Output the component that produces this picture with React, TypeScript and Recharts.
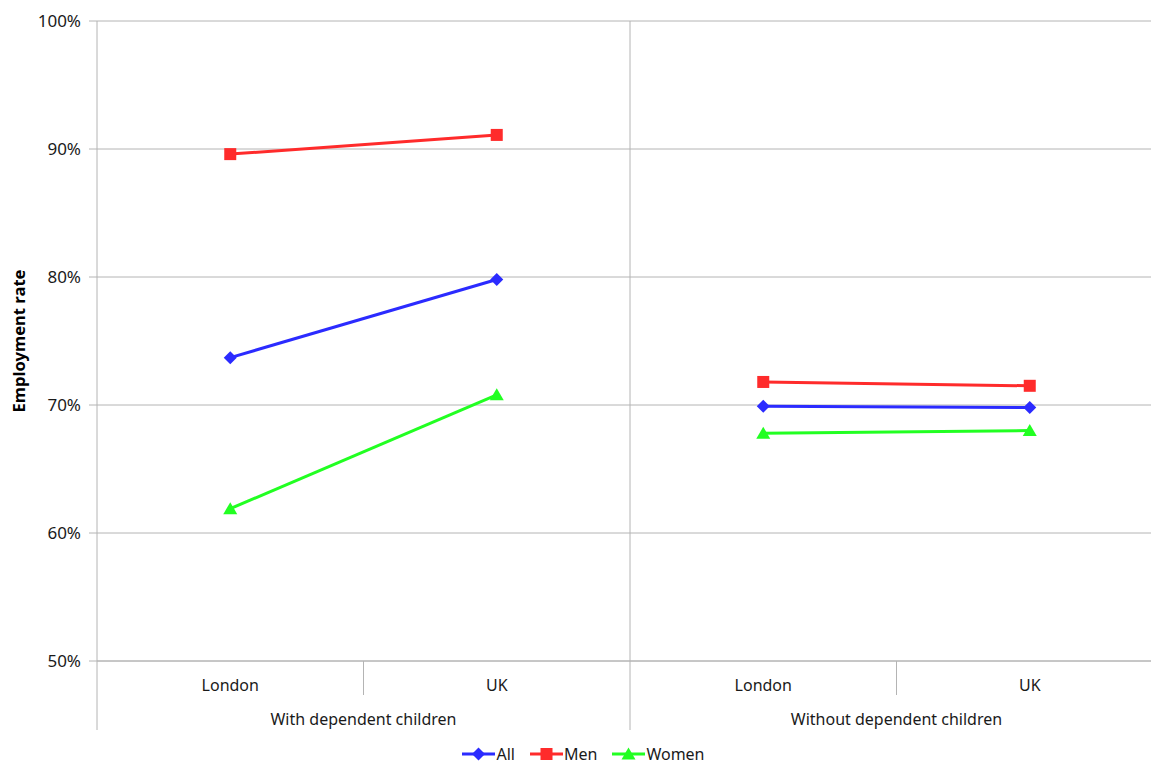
import {
  LineChart,
  Line,
  XAxis,
  YAxis,
  CartesianGrid,
  Legend,
  ReferenceLine,
} from "recharts";

// categories on the two-level x axis
const categoryKeys = ["with-london", "with-uk", "without-london", "without-uk"];
const categoryLabels = ["London", "UK", "London", "UK"];
const categoryGroup = [0, 0, 1, 1];
const groupLabels = ["With dependent children", "Without dependent children"];

// employment rate, %
const allValues = [73.7, 79.8, 69.9, 69.8];
const menValues = [89.6, 91.1, 71.8, 71.5];
const womenValues = [61.9, 70.8, 67.8, 68.0];

const yTicks = [50, 60, 70, 80, 90, 100];

const seriesInfo = [
  { name: "All", values: allValues, color: "#2b2bff", marker: "diamond" },
  { name: "Men", values: menValues, color: "#ff2b2b", marker: "square" },
  { name: "Women", values: womenValues, color: "#22ff22", marker: "triangle" },
];

// one line per series per group, so the lines break between groups
const data = categoryKeys.map((key, i) => {
  const row: Record<string, string | number | null> = { cat: key };
  seriesInfo.forEach((s) => {
    groupLabels.forEach((_, g) => {
      row[`${s.name}_${g}`] = categoryGroup[i] === g ? s.values[i] : null;
    });
  });
  return row;
});

const FONT = "'Noto Sans', 'Open Sans', sans-serif";
const TEXT = "#1a1a1a";
const GRID = "#b4b4b4";

function Marker({ cx, cy, type, color }: { cx: number; cy: number; type: string; color: string }) {
  if (cx == null || cy == null) return null;
  if (type === "diamond") {
    return <polygon points={`${cx},${cy - 6.5} ${cx + 6.5},${cy} ${cx},${cy + 6.5} ${cx - 6.5},${cy}`} fill={color} />;
  }
  if (type === "square") {
    return <rect x={cx - 6} y={cy - 6} width={12} height={12} fill={color} />;
  }
  return <polygon points={`${cx},${cy - 6.5} ${cx + 7},${cy + 5.5} ${cx - 7},${cy + 5.5}`} fill={color} />;
}

const CategoryTick = (props: any) => {
  const { x, y, payload, index } = props;
  const half = payload?.offset || 133;
  const left = x - half;
  const first = index === 0 || categoryGroup[index] !== categoryGroup[index - 1];
  const groupSize = categoryGroup.filter((g) => g === categoryGroup[index]).length;
  return (
    <g>
      <text x={x} y={y + 30} textAnchor="middle" fontFamily={FONT} fontSize={16} fill={TEXT}>
        {categoryLabels[index]}
      </text>
      <line x1={left} x2={left} y1={y} y2={first ? y + 69 : y + 34} stroke={GRID} strokeWidth={1} />
      {first && (
        <text
          x={left + half * groupSize}
          y={y + 64}
          textAnchor="middle"
          fontFamily={FONT}
          fontSize={16}
          fill={TEXT}
        >
          {groupLabels[categoryGroup[index]]}
        </text>
      )}
    </g>
  );
};

const LegendContent = () => (
  <div
    style={{
      display: "flex",
      justifyContent: "center",
      alignItems: "center",
      height: 20,
      fontFamily: FONT,
      fontSize: 16,
      color: TEXT,
      paddingLeft: 4,
    }}
  >
    {seriesInfo.map((s, i) => (
      <div
        key={s.name}
        style={{ display: "flex", alignItems: "center", marginRight: i < seriesInfo.length - 1 ? 15 : 0 }}
      >
        <svg width={33} height={14}>
          <line x1={0} x2={33} y1={7} y2={7} stroke={s.color} strokeWidth={3} />
          <Marker cx={16.5} cy={7} type={s.marker} color={s.color} />
        </svg>
        <span style={{ marginLeft: 1 }}>{s.name}</span>
      </div>
    ))}
  </div>
);

export default function App() {
  return (
    <div style={{ position: "absolute", left: 0, top: 0, width: 1151, height: 764, overflow: "hidden", background: "#fff" }}>
      <LineChart width={1163} height={764} data={data} margin={{ top: 21, right: 0, left: 0, bottom: 13 }}>
        <CartesianGrid horizontal={true} vertical={false} stroke={GRID} strokeWidth={1} />
        <XAxis
          dataKey="cat"
          scale="band"
          tick={<CategoryTick />}
          tickLine={false}
          tickSize={0}
          tickMargin={0}
          height={70}
          axisLine={{ stroke: GRID }}
          interval={0}
        />
        <YAxis
          width={97}
          domain={[50, 100]}
          ticks={yTicks}
          tickFormatter={(v: number) => `${v}%`}
          tick={{ fontFamily: FONT, fontSize: 17, fill: TEXT }}
          tickSize={8}
          tickMargin={8}
          tickLine={{ stroke: GRID }}
          axisLine={{ stroke: GRID }}
          label={({ viewBox }: any) => (
            <text
              x={0}
              y={0}
              transform={`translate(${viewBox.x + 25}, ${viewBox.y + viewBox.height / 2}) rotate(-90)`}
              textAnchor="middle"
              fontFamily={FONT}
              fontWeight="bold"
              fontSize={16}
              textLength={143}
              lengthAdjust="spacingAndGlyphs"
              fill="#000"
            >
              Employment rate
            </text>
          )}
        />
        <ReferenceLine x="without-london" position="start" stroke={GRID} strokeWidth={1} />
        <Legend verticalAlign="bottom" content={<LegendContent />} wrapperStyle={{ bottom: 0 }} />
        {seriesInfo.map((s) =>
          groupLabels.map((_, g) => (
            <Line
              key={`${s.name}_${g}`}
              dataKey={`${s.name}_${g}`}
              name={s.name}
              stroke={s.color}
              strokeWidth={3}
              isAnimationActive={false}
              legendType={g === 0 ? "line" : "none"}
              dot={(p: any) => <Marker key={`${s.name}_${g}_${p.index}`} cx={p.cx} cy={p.cy} type={s.marker} color={s.color} />}
              activeDot={false}
            />
          ))
        )}
      </LineChart>
    </div>
  );
}
